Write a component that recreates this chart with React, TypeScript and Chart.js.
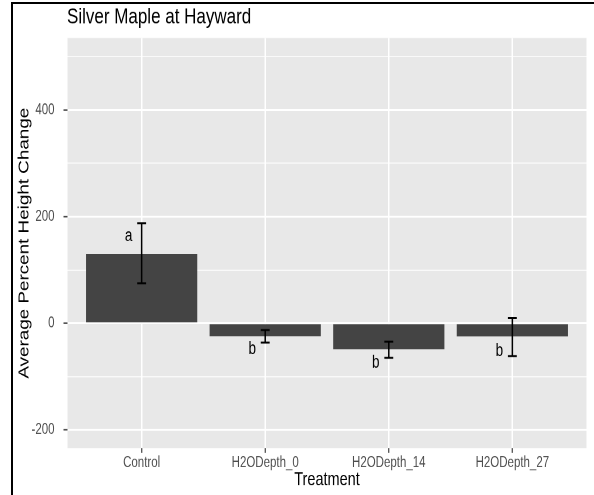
import React, { useEffect, useRef } from 'react';
import { Chart, registerables } from 'chart.js';

Chart.register(...registerables);

// ---- data ----
const categories = ['Control', 'H2ODepth_0', 'H2ODepth_14', 'H2ODepth_27'];
const meanChange = [130, -24, -48.5, -24.5];
const errLower = [75, -36, -64.5, -61.5];
const errUpper = [187.5, -12.6, -34.5, 9.9];
const groupLetters = ['a', 'b', 'b', 'b'];
const letterValues = [163, -49, -74, -52.5];
const chartTitle = 'Silver Maple at Hayward';
const xAxisTitle = 'Treatment';
const yAxisTitle = 'Average Percent Height Change';
const yMin = -234.4;
const yMax = 535;
const yStep = 100;
const yLabelEvery = 200;

// ---- layout / style constants ----
const W = 594;
const H_IMG = 495;
const H = 381; // internal canvas height, stretched vertically via CSS
const FONT = "'Liberation Sans', Arial, Helvetica, sans-serif";
const PANEL_BG = '#E8E8E8';
const BAR_FILL = '#444444';
const CAP_HALF = 0.036;
const LETTER_DX = -0.105;

const decorPlugin = {
  id: 'decor',
  beforeDraw(chart: any) {
    const { ctx, chartArea } = chart;
    ctx.save();
    ctx.fillStyle = PANEL_BG;
    ctx.fillRect(chartArea.left, chartArea.top, chartArea.right - chartArea.left, chartArea.bottom - chartArea.top);
    ctx.restore();
  },
  afterDatasetsDraw(chart: any) {
    const { ctx } = chart;
    const xs = chart.scales.x;
    const ys = chart.scales.y;
    ctx.save();
    ctx.strokeStyle = '#000';
    ctx.lineWidth = 1.5;
    errLower.forEach((lo, i) => {
      const hi = errUpper[i];
      const px = xs.getPixelForValue(i);
      const cl = xs.getPixelForValue(i - CAP_HALF);
      const cr = xs.getPixelForValue(i + CAP_HALF);
      const pl = ys.getPixelForValue(lo);
      const ph = ys.getPixelForValue(hi);
      ctx.beginPath();
      ctx.moveTo(px, pl);
      ctx.lineTo(px, ph);
      ctx.moveTo(cl, pl);
      ctx.lineTo(cr, pl);
      ctx.moveTo(cl, ph);
      ctx.lineTo(cr, ph);
      ctx.stroke();
    });
    ctx.fillStyle = '#000';
    ctx.font = `13.5px ${FONT}`;
    ctx.textAlign = 'center';
    ctx.textBaseline = 'middle';
    groupLetters.forEach((t, i) => {
      ctx.fillText(t, xs.getPixelForValue(i + LETTER_DX), ys.getPixelForValue(letterValues[i]));
    });
    ctx.restore();
  },
  afterDraw(chart: any) {
    const { ctx, chartArea } = chart;
    ctx.save();
    ctx.fillStyle = '#000';
    ctx.font = `17px ${FONT}`;
    ctx.textAlign = 'left';
    ctx.textBaseline = 'alphabetic';
    ctx.fillText(chartTitle, chartArea.left - 0.5, 17.9);
    ctx.restore();
  },
};

export default function App() {
  const ref = useRef<HTMLCanvasElement | null>(null);

  useEffect(() => {
    document.body.style.margin = '0';
    const canvas = ref.current;
    if (!canvas) return;
    const chart = new Chart(canvas, {
      type: 'bar',
      data: {
        datasets: [
          {
            data: meanChange.map((v, i) => ({ x: i, y: v })),
            backgroundColor: BAR_FILL,
            borderWidth: 0,
            barPercentage: 0.9,
            categoryPercentage: 1,
          },
        ],
      },
      options: {
        responsive: false,
        animation: false,
        devicePixelRatio: 2,
        layout: { padding: { top: 29.25, right: 7.5, left: 0, bottom: 0 } },
        plugins: { legend: { display: false }, tooltip: { enabled: false }, title: { display: false } },
        scales: {
          x: {
            type: 'linear',
            min: -0.6,
            max: 3.6,
            offset: false,
            ticks: {
              stepSize: 1,
              includeBounds: false,
              autoSkip: false,
              maxRotation: 0,
              padding: 1,
              color: '#4D4D4D',
              font: { size: 11.5, family: FONT },
              callback: (v: any) => (Number.isInteger(v) ? categories[v] ?? '' : ''),
            },
            grid: {
              offset: false,
              color: '#FFFFFF',
              lineWidth: 1.5,
              tickColor: '#333333',
              tickLength: 3.4,
              tickWidth: 1.1,
            },
            border: { display: false },
            title: {
              display: true,
              text: xAxisTitle,
              color: '#000',
              font: { size: 14.5, family: FONT },
              padding: { top: 0, bottom: 2.8 },
            },
            afterFit: (s: any) => {
              s.height = 35.95;
            },
          },
          y: {
            type: 'linear',
            min: yMin,
            max: yMax,
            ticks: {
              stepSize: yStep,
              includeBounds: false,
              autoSkip: false,
              padding: 9,
              color: '#4D4D4D',
              font: { size: 11.5, family: FONT },
              callback: (v: any) => (v % yLabelEvery === 0 ? String(v) : ''),
            },
            grid: {
              color: '#FFFFFF',
              lineWidth: (c: any) => (c.tick && c.tick.value % yLabelEvery === 0 ? 1.5 : 0.8),
              tickColor: (c: any) => (c.tick && c.tick.value % yLabelEvery === 0 ? '#333333' : 'rgba(0,0,0,0)'),
              tickLength: 4,
              tickWidth: 1.1,
            },
            border: { display: false },
            title: {
              display: true,
              text: yAxisTitle,
              color: '#000',
              font: { size: 14.5, family: FONT },
              padding: { top: 16, bottom: 0 },
            },
            afterFit: (s: any) => {
              s.width = 67.5;
            },
          },
        },
      } as any,
      plugins: [decorPlugin],
    });
    return () => chart.destroy();
  }, []);

  return (
    <div style={{ position: 'fixed', left: 0, top: 0, width: W, height: H_IMG, background: '#fff', overflow: 'hidden' }}>
      <canvas
        ref={ref}
        width={W}
        height={H}
        style={{ position: 'absolute', left: 0, top: 0, width: `${W}px`, height: `${H_IMG}px` }}
      />
      <div style={{ position: 'absolute', left: 11, top: 2, width: 2, height: H_IMG - 2, background: '#000' }} />
      <div style={{ position: 'absolute', left: 11, top: 2, width: W - 11, height: 2, background: '#000' }} />
    </div>
  );
}
